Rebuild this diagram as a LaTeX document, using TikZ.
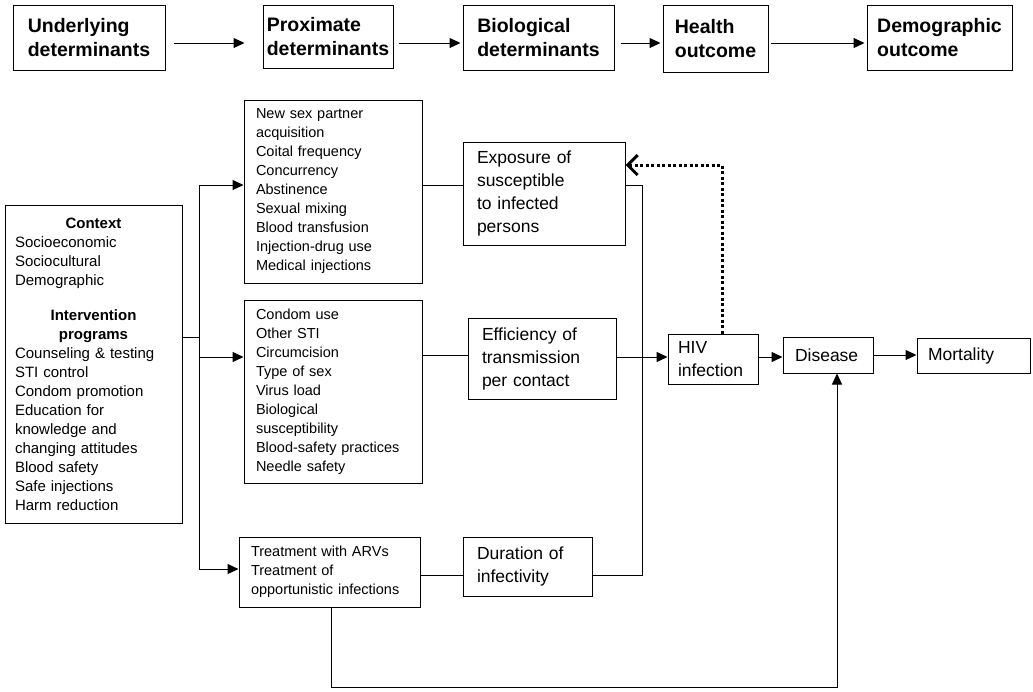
\documentclass[tikz,border=0pt]{standalone}
\usepackage{fontspec}
\setmainfont{Liberation Sans}
\usetikzlibrary{arrows.meta}
\tikzset{
    head-box/.style = {draw, line width=1pt, inner sep=0pt, align=left, font=\bfseries\fontsize{19.5}{24}\selectfont},
    item-box/.style = {draw, line width=1pt, inner sep=0pt, align=left, font=\fontsize{14.5}{19}\selectfont},
    step-box/.style = {draw, line width=1pt, inner sep=0pt, align=left, font=\fontsize{17.5}{23}\selectfont},
    link/.style = {line width=1pt},
    link-arrow/.style = {line width=1pt, -{Triangle[length=11pt,width=10pt]}},
    feedback/.style = {line width=3pt, dash pattern=on 3pt off 2.5pt, {Straight Barb[length=10pt,width=20pt,line width=3pt]}-},
}
\begin{document}
\begin{tikzpicture}[x=1pt, y=-1pt]
\useasboundingbox (0,0) rectangle (1033,691);

\node [head-box, minimum width=152pt, minimum height=65pt] (under) at (89,37.5) {Underlying\\determinants};
\node [head-box, minimum width=130pt, minimum height=63pt] (prox) at (328,36.5) {Proximate\\determinants};
\node [head-box, minimum width=151pt, minimum height=65pt] (biol) at (538.5,37.5) {Biological\\determinants};
\node [head-box, minimum width=105pt, minimum height=67pt] (health) at (715.5,38.5) {Health\\outcome};
\node [head-box, minimum width=145pt, minimum height=65pt] (demog) at (939.5,37.5) {Demographic\\outcome};

\draw [link-arrow, shorten <=8pt, shorten >=18pt] (under.east |- 0,43) -- (prox.west |- 0,43);
\draw [link-arrow, shorten <=5pt, shorten >=2pt] (prox.east |- 0,43) -- (biol.west |- 0,43);
\draw [link-arrow, shorten <=6pt, shorten >=2pt] (biol.east |- 0,43) -- (health.west |- 0,43);
\draw [link-arrow, shorten <=2pt, shorten >=2pt] (health.east |- 0,43) -- (demog.west |- 0,43);

\node [item-box, font=\fontsize{15}{19}\selectfont, minimum width=177pt, minimum height=318pt, text width=157pt] (ctx) at (93.5,364) {%
\makebox[\linewidth]{\textbf{Context}}\\
Socioeconomic\\
Sociocultural\\
Demographic\\[16pt]
\makebox[\linewidth]{\textbf{Intervention}}\\
\makebox[\linewidth]{\textbf{programs}}\\
Counseling \& testing\\
STI control\\
Condom promotion\\
Education for\\
knowledge and\\
changing attitudes\\
Blood safety\\
Safe injections\\
Harm reduction};

\node [item-box, minimum width=178pt, minimum height=183pt, text width=154pt] (behav) at (333,191.5) {%
New sex partner\\
acquisition\\
Coital frequency\\
Concurrency\\
Abstinence\\
Sexual mixing\\
Blood transfusion\\
Injection-drug use\\
Medical injections};

\node [item-box, minimum width=178pt, minimum height=183pt, text width=154pt] (biofac) at (333,391.5) {%
Condom use\\
Other STI\\
Circumcision\\
Type of sex\\
Virus load\\
Biological\\
susceptibility\\
Blood-safety practices\\
Needle safety};

\node [item-box, minimum width=181pt, minimum height=70pt, text width=157pt] (treat) at (329.5,572) {%
Treatment with ARVs\\
Treatment of\\
opportunistic infections};

\node [step-box, minimum width=162pt, minimum height=103pt, text width=134pt] (expo) at (544,193.5) {Exposure of\\susceptible\\to infected\\persons};
\node [step-box, minimum width=148pt, minimum height=81pt, text width=120pt] (effic) at (542,358.5) {Efficiency of\\transmission\\per contact};
\node [step-box, minimum width=129pt, minimum height=59pt, text width=101pt] (durat) at (527.5,566.5) {Duration of\\infectivity};
\node [step-box, minimum width=90pt, minimum height=50pt, text width=70pt] (hiv) at (713,359) {HIV\\infection};
\node [step-box, minimum width=90pt, minimum height=36pt, text width=66pt] (disease) at (828,355) {Disease};
\node [step-box, minimum width=113pt, minimum height=35pt, text width=91pt] (mortal) at (973.5,355.5) {Mortality};

\coordinate (trunk) at (199,337);
\draw [link] (ctx.east |- trunk) -- (trunk);
\draw [link] (trunk |- 0,185) -- (trunk |- 0,569);
\draw [link-arrow] (trunk |- 0,185) -- (behav.west |- 0,185);
\draw [link-arrow] (trunk |- 0,357) -- (biofac.west |- 0,357);
\draw [link-arrow] (trunk |- 0,569) -- (treat.west |- 0,569);

\draw [link] (behav.east |- 0,185) -- (expo.west |- 0,185);
\draw [link] (biofac.east |- 0,355) -- (effic.west |- 0,355);
\draw [link] (treat.east |- 0,575) -- (durat.west |- 0,575);
\draw [link] (expo.east |- 0,185) -| (642,575) -- (durat.east |- 0,575);

\draw [link-arrow] (effic.east |- 0,357) -- (hiv.west |- 0,357);
\draw [link-arrow] (hiv.east |- 0,357) -- (disease.west |- 0,357);
\draw [link-arrow] (disease.east |- 0,355) -- (mortal.west |- 0,355);
\draw [link-arrow] (treat.south -| 331,0) -- (331,687) -- (837,687) -- (disease.south -| 837,0);

\draw [feedback] (expo.east |- 0,165) -| (hiv.north -| 722,0);
\end{tikzpicture}
\end{document}
